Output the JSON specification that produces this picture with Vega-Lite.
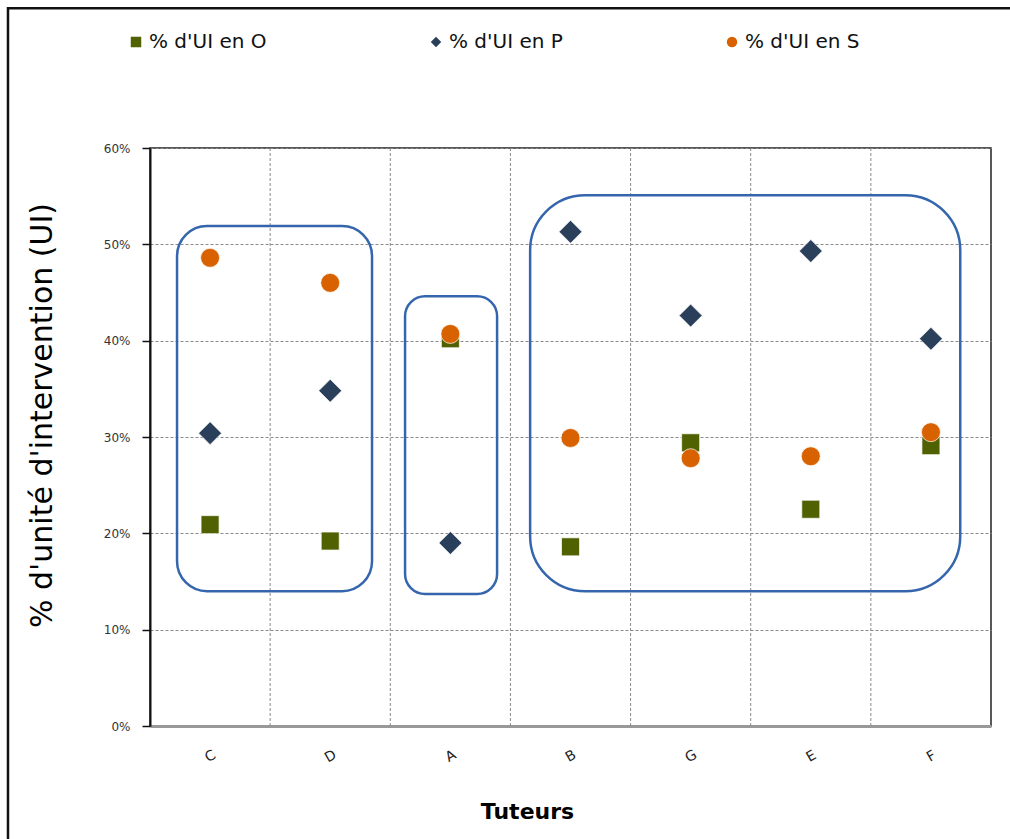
{
  "$schema": "https://vega.github.io/schema/vega-lite/v6.json",
  "width": 841,
  "height": 578,
  "autosize": {"type": "none"},
  "padding": {"left": 150, "top": 148, "right": 19, "bottom": 113},
  "background": "white",
  "config": {
    "view": {"stroke": "#222", "strokeWidth": 1.5},
    "font": "DejaVu Sans",
    "axisX": {
      "labelExpr": "['C','D','A','B','G','E','F'][datum.value]",
      "grid": false, "ticks": false,
      "domainColor": "#999", "domainWidth": 3,
      "labelAngle": -30, "labelPadding": 30, "labelFontSize": 14, "labelColor": "#222",
      "labelAlign": "center", "labelBaseline": "middle",
      "titleFontSize": 22, "titleFontWeight": "bold", "titleColor": "#000",
      "titleX": 377, "titleY": 85, "titleAlign": "center", "titleBaseline": "middle"
    },
    "axisY": {
      "format": ".0%",
      "grid": true, "gridColor": "#8a8a8a", "gridDash": [3, 2], "gridWidth": 1,
      "tickSize": 8, "tickColor": "#111", "tickWidth": 1.5,
      "domainColor": "#111", "domainWidth": 2,
      "labelPadding": 12, "labelFontSize": 12, "labelColor": "#333",
      "titleFontSize": 30, "titleFontWeight": "normal", "titleColor": "#000",
      "titleX": -108, "titleY": 267, "titleAngle": -90, "titleAlign": "center", "titleBaseline": "middle"
    },
    "legend": {
      "orient": "none", "legendX": -24, "legendY": -116, "direction": "horizontal",
      "labelFontSize": 20, "labelColor": "#111", "symbolSize": 110,
      "symbolStrokeWidth": 0, "columnPadding": 159, "labelOffset": 3, "padding": 0
    }
  },
  "datasets": {
    "points": [
      {"tuteur": "C", "i": 0, "serie": "% d'UI en O", "v": 0.209},
      {"tuteur": "C", "i": 0, "serie": "% d'UI en P", "v": 0.304},
      {"tuteur": "C", "i": 0, "serie": "% d'UI en S", "v": 0.486},
      {"tuteur": "D", "i": 1, "serie": "% d'UI en O", "v": 0.192},
      {"tuteur": "D", "i": 1, "serie": "% d'UI en P", "v": 0.348},
      {"tuteur": "D", "i": 1, "serie": "% d'UI en S", "v": 0.460},
      {"tuteur": "A", "i": 2, "serie": "% d'UI en O", "v": 0.402},
      {"tuteur": "A", "i": 2, "serie": "% d'UI en P", "v": 0.190},
      {"tuteur": "A", "i": 2, "serie": "% d'UI en S", "v": 0.407},
      {"tuteur": "B", "i": 3, "serie": "% d'UI en O", "v": 0.186},
      {"tuteur": "B", "i": 3, "serie": "% d'UI en P", "v": 0.513},
      {"tuteur": "B", "i": 3, "serie": "% d'UI en S", "v": 0.299},
      {"tuteur": "G", "i": 4, "serie": "% d'UI en O", "v": 0.294},
      {"tuteur": "G", "i": 4, "serie": "% d'UI en P", "v": 0.426},
      {"tuteur": "G", "i": 4, "serie": "% d'UI en S", "v": 0.278},
      {"tuteur": "E", "i": 5, "serie": "% d'UI en O", "v": 0.225},
      {"tuteur": "E", "i": 5, "serie": "% d'UI en P", "v": 0.493},
      {"tuteur": "E", "i": 5, "serie": "% d'UI en S", "v": 0.280},
      {"tuteur": "F", "i": 6, "serie": "% d'UI en O", "v": 0.291},
      {"tuteur": "F", "i": 6, "serie": "% d'UI en P", "v": 0.402},
      {"tuteur": "F", "i": 6, "serie": "% d'UI en S", "v": 0.305}
    ],
    "groupes": [
      {"g": "1", "x1": -0.275, "x2": 1.348, "y1": 0.140, "y2": 0.519},
      {"g": "2", "x1": 1.623, "x2": 2.389, "y1": 0.137, "y2": 0.446},
      {"g": "3", "x1": 2.664, "x2": 6.244, "y1": 0.140, "y2": 0.551}
    ],
    "limites": [{"b": 0.5}, {"b": 1.5}, {"b": 2.5}, {"b": 3.5}, {"b": 4.5}, {"b": 5.5}],
    "cadre": [{"x1": -1.682, "x2": 8.0, "y1": 0.745, "y2": -0.3}]
  },
  "layer": [
    {
      "data": {"name": "cadre"},
      "mark": {"type": "rect", "fill": null, "stroke": "#111", "strokeWidth": 2.5, "clip": false},
      "encoding": {
        "x": {"field": "x1", "type": "quantitative", "scale": {"domain": [-0.5, 6.5], "nice": false, "zero": false}, "title": "Tuteurs", "axis": {"values": [0, 1, 2, 3, 4, 5, 6]}},
        "x2": {"field": "x2"},
        "y": {"field": "y1", "type": "quantitative", "scale": {"domain": [0, 0.6], "nice": false, "zero": false}, "title": "% d'unité d'intervention (UI)", "axis": {"values": [0, 0.1, 0.2, 0.3, 0.4, 0.5, 0.6]}},
        "y2": {"field": "y2"}
      }
    },
    {
      "data": {"name": "limites"},
      "mark": {"type": "rule", "stroke": "#8a8a8a", "strokeWidth": 1, "strokeDash": [3, 2]},
      "encoding": {
        "x": {"field": "b", "type": "quantitative", "scale": {"domain": [-0.5, 6.5], "nice": false, "zero": false}, "title": "Tuteurs", "axis": {"values": [0, 1, 2, 3, 4, 5, 6]}}
      }
    },
    {
      "data": {"name": "points"},
      "transform": [{"filter": "datum.serie == \"% d'UI en O\""}],
      "mark": {"type": "point", "filled": true, "size": 324, "stroke": "white", "strokeWidth": 1, "strokeOpacity": 0.7, "opacity": 1},
      "encoding": {
        "x": {"field": "i", "type": "quantitative", "scale": {"domain": [-0.5, 6.5], "nice": false, "zero": false}, "title": "Tuteurs", "axis": {"values": [0, 1, 2, 3, 4, 5, 6]}},
        "y": {"field": "v", "type": "quantitative", "scale": {"domain": [0, 0.6], "nice": false, "zero": false}, "title": "% d'unité d'intervention (UI)", "axis": {"values": [0, 0.1, 0.2, 0.3, 0.4, 0.5, 0.6]}},
        "color": {"field": "serie", "type": "nominal", "title": null,
          "scale": {"domain": ["% d'UI en O", "% d'UI en P", "% d'UI en S"], "range": ["#4f6100", "#2a3f5a", "#d96200"]}},
        "shape": {"field": "serie", "type": "nominal", "title": null,
          "scale": {"domain": ["% d'UI en O", "% d'UI en P", "% d'UI en S"], "range": ["square", "diamond", "circle"]}}
      }
    },
    {
      "data": {"name": "points"},
      "transform": [{"filter": "datum.serie == \"% d'UI en P\""}],
      "mark": {"type": "point", "filled": true, "size": 529, "stroke": "white", "strokeWidth": 1, "strokeOpacity": 0.7, "opacity": 1},
      "encoding": {
        "x": {"field": "i", "type": "quantitative", "scale": {"domain": [-0.5, 6.5], "nice": false, "zero": false}, "title": "Tuteurs", "axis": {"values": [0, 1, 2, 3, 4, 5, 6]}},
        "y": {"field": "v", "type": "quantitative", "scale": {"domain": [0, 0.6], "nice": false, "zero": false}, "title": "% d'unité d'intervention (UI)", "axis": {"values": [0, 0.1, 0.2, 0.3, 0.4, 0.5, 0.6]}},
        "color": {"field": "serie", "type": "nominal", "title": null,
          "scale": {"domain": ["% d'UI en O", "% d'UI en P", "% d'UI en S"], "range": ["#4f6100", "#2a3f5a", "#d96200"]}},
        "shape": {"field": "serie", "type": "nominal", "title": null,
          "scale": {"domain": ["% d'UI en O", "% d'UI en P", "% d'UI en S"], "range": ["square", "diamond", "circle"]}}
      }
    },
    {
      "data": {"name": "points"},
      "transform": [{"filter": "datum.serie == \"% d'UI en S\""}],
      "mark": {"type": "point", "filled": true, "size": 361, "stroke": "white", "strokeWidth": 1, "strokeOpacity": 0.7, "opacity": 1},
      "encoding": {
        "x": {"field": "i", "type": "quantitative", "scale": {"domain": [-0.5, 6.5], "nice": false, "zero": false}, "title": "Tuteurs", "axis": {"values": [0, 1, 2, 3, 4, 5, 6]}},
        "y": {"field": "v", "type": "quantitative", "scale": {"domain": [0, 0.6], "nice": false, "zero": false}, "title": "% d'unité d'intervention (UI)", "axis": {"values": [0, 0.1, 0.2, 0.3, 0.4, 0.5, 0.6]}},
        "color": {"field": "serie", "type": "nominal", "title": null,
          "scale": {"domain": ["% d'UI en O", "% d'UI en P", "% d'UI en S"], "range": ["#4f6100", "#2a3f5a", "#d96200"]}},
        "shape": {"field": "serie", "type": "nominal", "title": null,
          "scale": {"domain": ["% d'UI en O", "% d'UI en P", "% d'UI en S"], "range": ["square", "diamond", "circle"]}}
      }
    },
    {
      "data": {"name": "groupes"},
      "transform": [{"filter": "datum.g == '1'"}],
      "mark": {"type": "rect", "fill": null, "stroke": "#3566ad", "strokeWidth": 2.5, "cornerRadius": 30},
      "encoding": {
        "x": {"field": "x1", "type": "quantitative", "scale": {"domain": [-0.5, 6.5], "nice": false, "zero": false}, "title": "Tuteurs", "axis": {"values": [0, 1, 2, 3, 4, 5, 6]}},
        "x2": {"field": "x2"},
        "y": {"field": "y1", "type": "quantitative", "scale": {"domain": [0, 0.6], "nice": false, "zero": false}, "title": "% d'unité d'intervention (UI)", "axis": {"values": [0, 0.1, 0.2, 0.3, 0.4, 0.5, 0.6]}},
        "y2": {"field": "y2"}
      }
    },
    {
      "data": {"name": "groupes"},
      "transform": [{"filter": "datum.g == '2'"}],
      "mark": {"type": "rect", "fill": null, "stroke": "#3566ad", "strokeWidth": 2.5, "cornerRadius": 20},
      "encoding": {
        "x": {"field": "x1", "type": "quantitative", "scale": {"domain": [-0.5, 6.5], "nice": false, "zero": false}, "title": "Tuteurs", "axis": {"values": [0, 1, 2, 3, 4, 5, 6]}},
        "x2": {"field": "x2"},
        "y": {"field": "y1", "type": "quantitative", "scale": {"domain": [0, 0.6], "nice": false, "zero": false}, "title": "% d'unité d'intervention (UI)", "axis": {"values": [0, 0.1, 0.2, 0.3, 0.4, 0.5, 0.6]}},
        "y2": {"field": "y2"}
      }
    },
    {
      "data": {"name": "groupes"},
      "transform": [{"filter": "datum.g == '3'"}],
      "mark": {"type": "rect", "fill": null, "stroke": "#3566ad", "strokeWidth": 2.5, "cornerRadius": 55},
      "encoding": {
        "x": {"field": "x1", "type": "quantitative", "scale": {"domain": [-0.5, 6.5], "nice": false, "zero": false}, "title": "Tuteurs", "axis": {"values": [0, 1, 2, 3, 4, 5, 6]}},
        "x2": {"field": "x2"},
        "y": {"field": "y1", "type": "quantitative", "scale": {"domain": [0, 0.6], "nice": false, "zero": false}, "title": "% d'unité d'intervention (UI)", "axis": {"values": [0, 0.1, 0.2, 0.3, 0.4, 0.5, 0.6]}},
        "y2": {"field": "y2"}
      }
    }
  ]
}
